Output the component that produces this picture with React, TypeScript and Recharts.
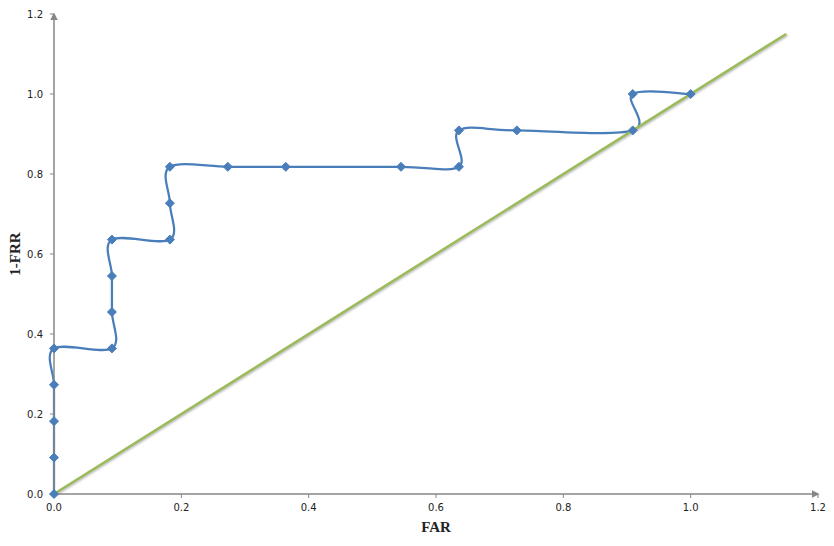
import React from 'react';
import { Line, LineChart, XAxis, YAxis } from 'recharts';

// ROC points (FAR vs 1-FRR)
const farValues = [
  0, 0, 0, 0, 0, 0.091, 0.091, 0.091, 0.091, 0.182, 0.182, 0.182, 0.273, 0.364,
  0.545, 0.636, 0.636, 0.727, 0.909, 0.909, 1.0,
];
const tprValues = [
  0, 0.091, 0.182, 0.273, 0.364, 0.364, 0.455, 0.545, 0.636, 0.636, 0.727, 0.818,
  0.818, 0.818, 0.818, 0.818, 0.909, 0.909, 0.909, 1.0, 1.0,
];
// reference diagonal
const diagX = [0, 1.15];
const diagY = [0, 1.15];
const ticks = [0, 0.2, 0.4, 0.6, 0.8, 1.0, 1.2];

const rocData = farValues.map((x, i) => ({ x, y: tprValues[i] }));
const diagData = diagX.map((x, i) => ({ x, y: diagY[i] }));

// Excel-like smoothed line (catmull-rom through every point)
const smoothCurve = (context: any) => {
  let pts: number[][] = [];
  return {
    areaStart() {},
    areaEnd() {},
    lineStart() {
      pts = [];
    },
    point(x: number, y: number) {
      pts.push([+x, +y]);
    },
    lineEnd() {
      if (!pts.length) return;
      context.moveTo(pts[0][0], pts[0][1]);
      for (let i = 0; i < pts.length - 1; i++) {
        const p0 = pts[i - 1] || pts[i];
        const p1 = pts[i];
        const p2 = pts[i + 1];
        const p3 = pts[i + 2] || p2;
        context.bezierCurveTo(
          p1[0] + (p2[0] - p0[0]) / 6,
          p1[1] + (p2[1] - p0[1]) / 6,
          p2[0] - (p3[0] - p1[0]) / 6,
          p2[1] - (p3[1] - p1[1]) / 6,
          p2[0],
          p2[1]
        );
      }
    },
  };
};

const Diamond = (props: any) => {
  const { cx, cy, index } = props;
  if (cx == null || cy == null) return <g key={index} />;
  const r = 4.5;
  return (
    <polygon
      key={index}
      points={`${cx},${cy - r} ${cx + r},${cy} ${cx},${cy + r} ${cx - r},${cy}`}
      fill="#4A7EBB"
      stroke="#4A7EBB"
      strokeWidth={1}
    />
  );
};

const tickStyle = { fontSize: 10, fill: '#222', fontFamily: 'DejaVu Sans' };

const App = () => {
  return (
    <div style={{ position: 'absolute', left: 0, top: 0, background: '#fff' }}>
      <LineChart
        width={834}
        height={546}
        margin={{ top: 14, right: 16, left: 0, bottom: 0 }}
      >
        <defs>
          <marker
            id="axArrow"
            viewBox="0 0 10 10"
            refX="8"
            refY="5"
            markerWidth="5"
            markerHeight="5"
            orient="auto-start-reverse"
          >
            <path d="M0,0 L10,5 L0,10 z" fill="#868686" />
          </marker>
        </defs>
        <XAxis
          type="number"
          dataKey="x"
          domain={[0, 1.2]}
          ticks={ticks}
          tickFormatter={(v: number) => v.toFixed(1)}
          height={52}
          tickSize={4}
          tickMargin={6}
          tick={tickStyle}
          tickLine={{ stroke: '#868686' }}
          axisLine={{ stroke: '#868686', strokeWidth: 1.5, markerEnd: 'url(#axArrow)' } as any}
          label={{
            content: (p: any) => {
              const vb = p.viewBox;
              return (
                <text
                  x={vb.x + vb.width / 2}
                  y={vb.y + 38}
                  textAnchor="middle"
                  fontFamily="Liberation Serif"
                  fontWeight="bold"
                  fontSize={15}
                  fill="#222"
                >
                  FAR
                </text>
              );
            },
          }}
        />
        <YAxis
          type="number"
          dataKey="y"
          domain={[0, 1.2]}
          ticks={ticks}
          tickFormatter={(v: number) => v.toFixed(1)}
          width={54}
          tickSize={4}
          tickMargin={7}
          tick={tickStyle}
          tickLine={{ stroke: '#868686' }}
          axisLine={{ stroke: '#868686', strokeWidth: 1.5, markerStart: 'url(#axArrow)' } as any}
          label={{
            content: (p: any) => {
              const vb = p.viewBox;
              const x = vb.x + 20;
              const y = vb.y + vb.height / 2;
              return (
                <text
                  x={x}
                  y={y}
                  transform={`rotate(-90 ${x} ${y})`}
                  textAnchor="middle"
                  fontFamily="Liberation Serif"
                  fontWeight="bold"
                  fontSize={15}
                  fill="#222"
                >
                  1-FRR
                </text>
              );
            },
          }}
        />
        <Line
          data={rocData}
          dataKey="y"
          type={smoothCurve as any}
          stroke="#4A7EBB"
          strokeWidth={2.25}
          dot={Diamond}
          activeDot={false}
          isAnimationActive={false}
        />
        <Line
          data={diagData}
          dataKey="y"
          type="linear"
          stroke="#9BBB59"
          strokeWidth={2.5}
          dot={false}
          activeDot={false}
          isAnimationActive={false}
          style={{ filter: 'drop-shadow(1px 1px 1px rgba(0,0,0,0.3))' }}
        />
      </LineChart>
    </div>
  );
};

export default App;
